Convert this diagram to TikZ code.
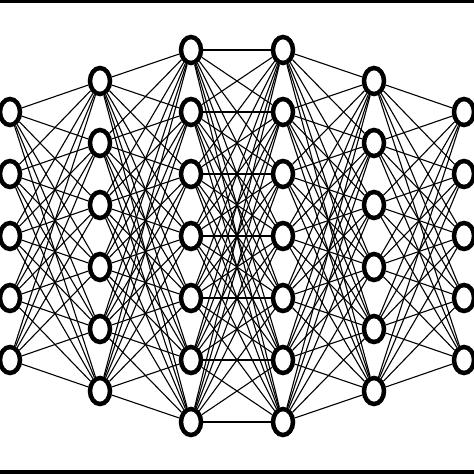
\documentclass[tikz,border=0pt]{standalone}
\usetikzlibrary{shapes.geometric}

\tikzset{
  neuron/.style={ellipse,draw=black,fill=white,line width=4.5pt,minimum width=20pt,minimum height=26pt,inner sep=0pt},
  synapse/.style={draw=black,line width=1.1pt}
}

\begin{document}
\begin{tikzpicture}[x=1pt,y=-1pt]

\useasboundingbox (0,0) rectangle (474,474);

% Frame bars
\fill[black](0,0) rectangle (474,3);
\fill[black](0,470) rectangle (474,474);

% Neurons
\foreach \l/\x/\n in {1/10/5, 2/100/6, 3/191/7, 4/283/7, 5/374/6, 6/464/5}
  \foreach \i in {1,...,\n}
    \node[neuron] (n\l-\i) at (\x,{236+62*(\i-(\n+1)/2)}) {};

% Connections
\foreach \l/\m/\n/\k in {1/2/5/6, 2/3/6/7, 3/4/7/7, 4/5/7/6, 5/6/6/5}
  \foreach \i in {1,...,\n}
    \foreach \j in {1,...,\k}
      \draw[synapse] (n\l-\i) -- (n\m-\j);

\end{tikzpicture}
\end{document}
